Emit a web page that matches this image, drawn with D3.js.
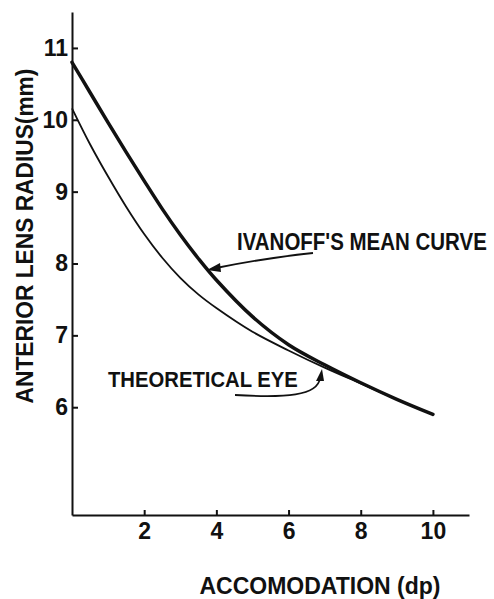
<!DOCTYPE html>
<html>
<head>
<meta charset="utf-8">
<script src="https://cdn.jsdelivr.net/npm/d3@7"></script>
<style>
  html, body { margin: 0; padding: 0; background: #fff; }
  svg { display: block; }
  text { font-family: "Liberation Sans", Arial, sans-serif; font-weight: bold; fill: #111; }
</style>
</head>
<body>
<svg id="chart" width="494" height="599"></svg>
<script>
// ---- data ----
const accommodation  = [0, 0.5, 1, 1.5, 2, 2.5, 3, 3.5, 4, 5, 6, 7, 8, 9, 10];
const ivanoffMean    = [10.80, 10.38, 9.96, 9.55, 9.15, 8.76, 8.40, 8.07, 7.77, 7.26, 6.87, 6.59, 6.34, 6.11, 5.90];
const theoreticalEye = [10.16, 9.66, 9.21, 8.79, 8.41, 8.08, 7.80, 7.57, 7.38, 7.05, 6.79, 6.55, 6.33, 6.11, 5.90];
const xTicks = [2, 4, 6, 8, 10];
const yTicks = [6, 7, 8, 9, 10, 11];
const yTickLabels = ["6", "7", "8", "9", "10", "11"];
const xTitle = "ACCOMODATION (dp)";
const yTitle = "ANTERIOR LENS RADIUS(mm)";
const ivanoffLabel = "IVANOFF'S MEAN CURVE";
const theoreticalLabel = "THEORETICAL EYE";

const svg = d3.select("#chart");
const x = d3.scaleLinear().domain([0, 11]).range([72, 469]);
const y = d3.scaleLinear().domain([4.5, 11.5]).range([515, 12]);

// axes
const yAxis = d3.axisLeft(y).tickValues(yTicks)
  .tickFormat((d, i) => yTickLabels[i]).tickSizeInner(-6).tickSizeOuter(0).tickPadding(4);
const gy = svg.append("g").attr("transform", `translate(${x(0)},0)`).call(yAxis);
gy.select(".domain").attr("stroke", "#111").attr("stroke-width", 2);
gy.selectAll(".tick line").attr("stroke", "#111").attr("stroke-width", 2);
gy.selectAll(".tick text").attr("font-size", 23).attr("fill", "#111")
  .style("font-family", "'Liberation Sans', Arial, sans-serif").style("font-weight", "bold");

const xAxis = d3.axisBottom(x).tickValues(xTicks)
  .tickSizeInner(-5).tickSizeOuter(0).tickPadding(8);
const gx = svg.append("g").attr("transform", `translate(0,${y(4.5)})`).call(xAxis);
gx.select(".domain").attr("stroke", "#111").attr("stroke-width", 2);
gx.selectAll(".tick line").attr("stroke", "#111").attr("stroke-width", 2);
gx.selectAll(".tick text").attr("font-size", 23).attr("fill", "#111")
  .style("font-family", "'Liberation Sans', Arial, sans-serif").style("font-weight", "bold");

// curves
const line = d3.line().x(d => x(d[0])).y(d => y(d[1])).curve(d3.curveCatmullRom.alpha(0.5));
svg.append("path").datum(accommodation.map((a, i) => [a, theoreticalEye[i]]))
  .attr("d", line).attr("fill", "none").attr("stroke", "#111").attr("stroke-width", 1.8);
svg.append("path").datum(accommodation.map((a, i) => [a, ivanoffMean[i]]))
  .attr("d", line).attr("fill", "none").attr("stroke", "#111").attr("stroke-width", 3.5)
  .attr("stroke-linecap", "round");

// text helper: condensed lettering, squeezed horizontally to a width
function label(str, cx, cy, size, width, anchor, rotate) {
  const t = svg.append("text").text(str).attr("font-size", size).attr("text-anchor", anchor);
  const w = t.node().getComputedTextLength();
  const sx = Math.min(1, width / w);
  t.attr("transform", `translate(${cx},${cy}) rotate(${rotate || 0}) scale(${sx},1)`);
  return t;
}

// titles
label(xTitle, 320, 594, 23, 254, "middle");
label(yTitle, 33, 236, 24, 335, "middle", -90);

// annotations
label(ivanoffLabel, 237, 250, 23, 250, "start");
label(theoreticalLabel, 108, 387, 23, 190, "start");

// arrows
svg.append("path").attr("d", "M313,253 Q265,258 216,268")
  .attr("fill", "none").attr("stroke", "#111").attr("stroke-width", 1.8);
svg.append("path").attr("d", "M207,270 L220,263 L221,272 Z").attr("fill", "#111");
svg.append("path").attr("d", "M235,395 C285,398 318,396 320,378")
  .attr("fill", "none").attr("stroke", "#111").attr("stroke-width", 1.8);
svg.append("path").attr("d", "M322,369 L316,381 L324,381 Z").attr("fill", "#111");
</script>
</body>
</html>
